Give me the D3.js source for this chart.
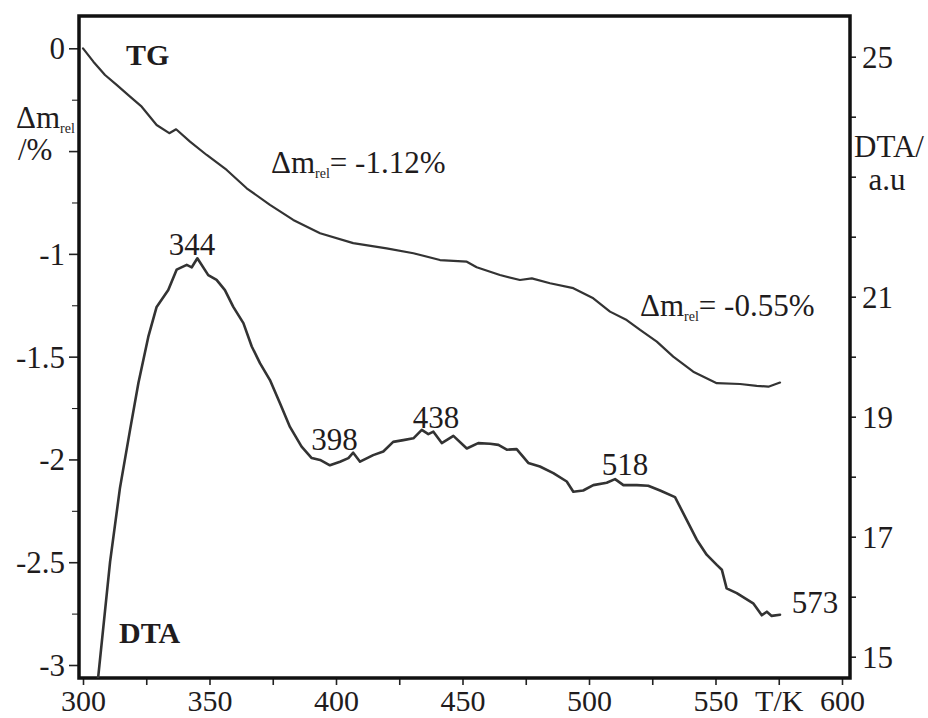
<!DOCTYPE html>
<html lang="en">
<head>
<meta charset="UTF-8">
<title>TG / DTA</title>
<style>
  body { margin: 0; background: #fff; }
  svg text { font-family: "Liberation Serif", "Times New Roman", "DejaVu Serif", serif; fill: #1f1c1d; }
  .curve { fill: none; stroke: #333; stroke-linejoin: round; stroke-linecap: round; }
</style>
</head>
<body>
<div id="chart"></div>
<script src="https://cdnjs.cloudflare.com/ajax/libs/d3/7.8.5/d3.min.js"></script>
<script>
// TG curve, temperature (K) and relative mass change (%)
var tgT = [300, 304.1, 308.7, 313.3, 318.6, 323.2, 329.1, 334.1, 336.8, 342.3, 348.9, 356.8,
  364.7, 373.9, 383.1, 393.7, 406.8, 420.0, 430.6, 441.1, 451.7, 455.6, 464.8, 472.7,
  477.4, 484.6, 493.8, 501.7, 508.3, 514.9, 520.2, 526.8, 533.3, 541.2, 550.5, 559.7,
  566.3, 570.9, 575.5];
var tgV = [0, -0.065, -0.130, -0.178, -0.235, -0.284, -0.373, -0.413, -0.394, -0.454, -0.519, -0.592,
  -0.681, -0.762, -0.835, -0.900, -0.948, -0.973, -0.997, -1.030, -1.038, -1.065, -1.103, -1.127,
  -1.119, -1.143, -1.167, -1.216, -1.281, -1.322, -1.370, -1.427, -1.500, -1.573, -1.629, -1.633,
  -1.642, -1.646, -1.626];

// DTA curve, temperature (K) and signal (a.u)
var dtaT = [305.5, 306.0, 310.7, 314.6, 318.6, 321.9, 325.8, 329.1, 333.7, 337.0, 341.0, 343.0,
  345.2, 349.5, 352.8, 356.1, 359.4, 363.4, 366.7, 370.0, 373.9, 377.9, 381.8, 386.4,
  390.4, 393.7, 397.6, 401.6, 404.9, 406.8, 409.5, 414.7, 418.7, 422.6, 426.6, 430.6,
  433.9, 436.5, 438.5, 441.8, 446.4, 451.7, 456.2, 460.9, 464.2, 467.5, 471.4, 476.0,
  480.6, 485.9, 491.2, 493.8, 497.7, 501.7, 507.0, 510.3, 513.6, 518.9, 523.4, 528.1,
  534.0, 538.6, 542.6, 546.5, 550.5, 552.5, 554.4, 558.4, 564.9, 568.3, 570.3, 572.2, 575.5];
var dtaV = [14.5, 14.66, 16.58, 17.81, 18.78, 19.56, 20.33, 20.83, 21.11, 21.45, 21.53, 21.49,
  21.64, 21.36, 21.28, 21.11, 20.83, 20.56, 20.17, 19.89, 19.61, 19.22, 18.83, 18.50,
  18.31, 18.28, 18.19, 18.25, 18.31, 18.40, 18.25, 18.36, 18.42, 18.58, 18.61, 18.64,
  18.78, 18.71, 18.75, 18.56, 18.68, 18.47, 18.56, 18.55, 18.53, 18.45, 18.46, 18.23,
  18.17, 18.06, 17.92, 17.75, 17.77, 17.86, 17.90, 17.96, 17.86, 17.86, 17.85, 17.77,
  17.66, 17.28, 16.95, 16.70, 16.53, 16.45, 16.14, 16.06, 15.89, 15.69, 15.75, 15.68, 15.70];

// axis ticks and labels
var xTicks = [300, 325, 350, 375, 400, 425, 450, 475, 500, 525, 550, 575, 600];
var xLabels = [300, 350, 400, 450, 500, 550, 600];
var leftMajor = [0, -0.5, -1, -1.5, -2, -2.5, -3];
var leftMinor = [-0.25, -0.75, -1.25, -1.75, -2.25, -2.75];
var leftLabels = [0, -1, -1.5, -2, -2.5, -3];
var rightTicks = [25, 24, 23, 22, 21, 20, 19, 18, 17, 16, 15];
var rightLabels = [25, 21, 19, 17, 15];

// peak annotations on the DTA curve
var peakT = [344, 398, 438, 518, 573];

var W = 928, H = 718;
var frame = { left: 79, right: 850, top: 16, bottom: 678 };
var FS = 31;

var x = d3.scaleLinear().domain([300, 600]).range([83, 842]);
var yL = d3.scaleLinear().domain([0, -3]).range([48.3, 665]);
var yR = d3.scaleLinear().domain([25, 15]).range([56.7, 656.7]);

var svg = d3.select("#chart").append("svg")
  .attr("width", W)
  .attr("height", H);

svg.append("defs").append("clipPath")
  .attr("id", "plot-clip")
  .append("rect")
  .attr("x", frame.left)
  .attr("y", frame.top)
  .attr("width", frame.right - frame.left)
  .attr("height", frame.bottom - frame.top);

// bottom axis
var xAxis = svg.append("g")
  .attr("class", "axis")
  .attr("transform", "translate(0," + frame.bottom + ")")
  .call(d3.axisBottom(x).tickValues(xTicks).tickSize(7).tickPadding(0)
    .tickFormat(function (d) { return xLabels.indexOf(d) >= 0 ? d : (d === 575 ? "T/K" : ""); }));

// left axis, major and minor ticks
var leftAxis = svg.append("g")
  .attr("class", "axis")
  .attr("transform", "translate(" + frame.left + ",0)")
  .call(d3.axisLeft(yL).tickValues(leftMajor).tickSize(10).tickPadding(4)
    .tickFormat(function (d) { return leftLabels.indexOf(d) >= 0 ? d : ""; }));
svg.append("g")
  .attr("class", "axis minor")
  .attr("transform", "translate(" + frame.left + ",0)")
  .call(d3.axisLeft(yL).tickValues(leftMinor).tickSize(7).tickFormat(""));

// right axis
var rightAxis = svg.append("g")
  .attr("class", "axis")
  .attr("transform", "translate(" + frame.right + ",0)")
  .call(d3.axisRight(yR).tickValues(rightTicks).tickSize(6).tickPadding(6)
    .tickFormat(function (d) { return rightLabels.indexOf(d) >= 0 ? d : ""; }));

svg.selectAll(".axis").attr("font-family", null);
svg.selectAll(".axis text").attr("font-size", FS);
svg.selectAll(".axis .domain").remove();
svg.selectAll(".axis line").attr("stroke", "#222").attr("stroke-width", 1.6);
svg.selectAll(".minor line").attr("stroke-width", 1.1);
leftAxis.selectAll("text").attr("dy", "0.34em");
rightAxis.selectAll("text").attr("dy", "0.34em");
// keep the bottom labels inside the page
xAxis.selectAll("text").attr("font-size", 30).attr("y", 33).attr("dy", 0);

// frame
svg.append("rect")
  .attr("x", frame.left)
  .attr("y", frame.top)
  .attr("width", frame.right - frame.left)
  .attr("height", frame.bottom - frame.top)
  .attr("fill", "none")
  .attr("stroke", "#111")
  .attr("stroke-width", 3.5);

var plot = svg.append("g").attr("clip-path", "url(#plot-clip)");

var tgLine = d3.line()
  .x(function (d, i) { return x(tgT[i]); })
  .y(function (d, i) { return yL(tgV[i]); });

var dtaLine = d3.line()
  .x(function (d, i) { return x(dtaT[i]); })
  .y(function (d, i) { return yR(dtaV[i]); });

plot.append("path")
  .datum(tgT)
  .attr("class", "curve")
  .attr("stroke-width", 2.2)
  .attr("d", tgLine);

plot.append("path")
  .datum(dtaT)
  .attr("class", "curve")
  .attr("stroke-width", 2.6)
  .attr("d", dtaLine);

// peak labels (centre temperature, baseline in DTA units)
var peakLabelX = [343.1, 399.4, 439.5, 514.2, 589.3];
var peakLabelY = [21.69, 18.44, 18.81, 18.03, 15.73];
svg.selectAll(".peak")
  .data(peakT)
  .enter().append("text")
  .attr("class", "peak")
  .attr("x", function (d, i) { return x(peakLabelX[i]); })
  .attr("y", function (d, i) { return yR(peakLabelY[i]); })
  .attr("text-anchor", "middle")
  .attr("font-size", FS)
  .text(function (d) { return d; });

// curve names
svg.append("text")
  .attr("x", 126).attr("y", 65)
  .attr("font-size", 30).attr("font-weight", "bold")
  .text("TG");

svg.append("text")
  .attr("x", 119).attr("y", 643)
  .attr("font-size", 30).attr("font-weight", "bold")
  .text("DTA");

// mass loss annotations
function massLabel(px, py, value) {
  var t = svg.append("text").attr("x", px).attr("y", py).attr("font-size", FS);
  t.append("tspan").text("\u0394m");
  t.append("tspan").attr("font-size", 14).attr("dy", 5).text("rel");
  t.append("tspan").attr("dy", -5).text("= " + value);
}
massLabel(271, 173, "-1.12%");
massLabel(640, 316, "-0.55%");

// left axis title
var lt = svg.append("text").attr("x", 16).attr("y", 128).attr("font-size", FS);
lt.append("tspan").text("\u0394m");
lt.append("tspan").attr("font-size", 14).attr("dy", 5).text("rel");
svg.append("text").attr("x", 18).attr("y", 160).attr("font-size", FS).text("/%");

// right axis title
svg.append("text").attr("x", 889).attr("y", 157).attr("font-size", FS)
  .attr("text-anchor", "middle").text("DTA/");
svg.append("text").attr("x", 887).attr("y", 190).attr("font-size", FS)
  .attr("text-anchor", "middle").text("a.u");
</script>
</body>
</html>
